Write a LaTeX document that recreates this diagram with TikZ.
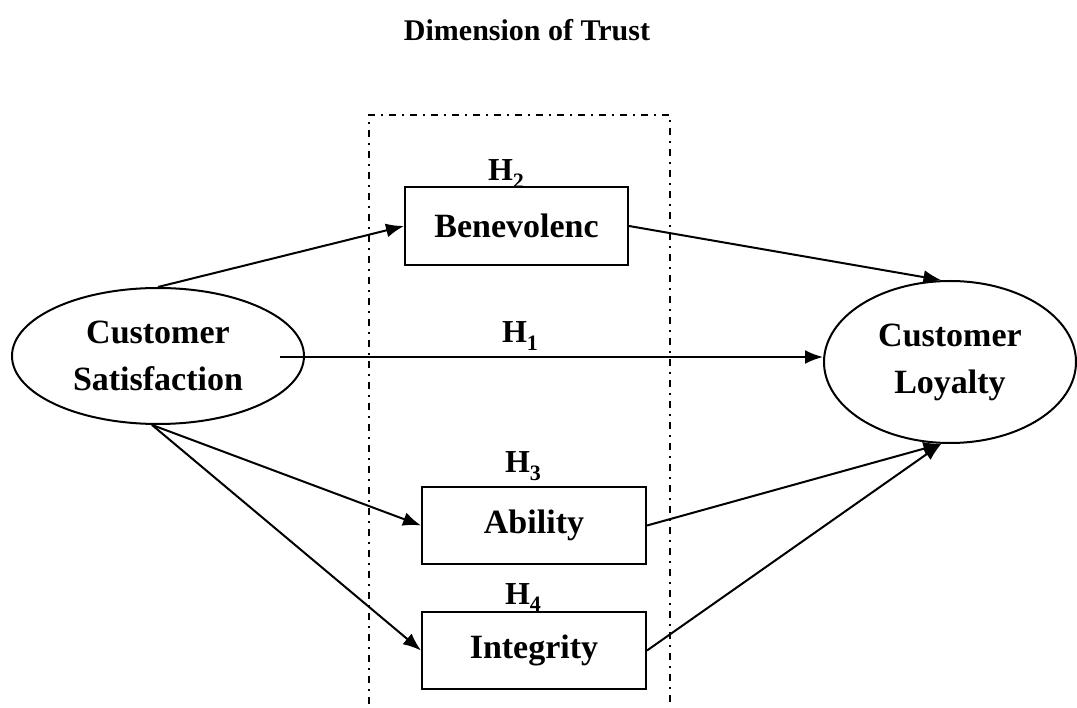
\documentclass[tikz,border=0pt]{standalone}
\usepackage{fontspec}
\setmainfont{Liberation Serif}
\usetikzlibrary{arrows.meta,shapes.geometric}
\newcommand{\hsub}[1]{H\raisebox{-0.22em}{\fontsize{22}{24}\selectfont #1}}
\begin{document}
\begin{tikzpicture}[x=1pt,y=-1pt,
  every node/.style={font=\bfseries\fontsize{34}{47}\selectfont},
  box/.style={draw,line width=2pt,inner sep=0pt},
  oval/.style={draw,ellipse,line width=2pt,inner sep=0pt,align=center},
  lab/.style={anchor=base,inner sep=0pt,font=\bfseries\fontsize{32}{38}\selectfont},
  conn/.style={line width=2pt,-{Latex[length=18pt,width=14pt]}},
  frame/.style={line width=1.5pt,dash pattern=on 7pt off 6pt on 2pt off 6pt}]
\useasboundingbox (0,0) rectangle (1077,708);
\node[anchor=base,inner sep=0pt,font=\bfseries\fontsize{30}{36}\selectfont] (title) at (527,41) {Dimension of Trust};
\draw[frame] (369,704) -- (369,115) -- (670,115) -- (670,704);
\node[oval,minimum width=292pt,minimum height=136pt] (CS) at (158,356) {Customer\\Satisfaction};
\node[oval,minimum width=252pt,minimum height=162pt] (CL) at (950,362) {Customer\\Loyalty};
\node[box,minimum width=223pt,minimum height=78pt] (B) at (516.5,226) {Benevolenc};
\node[box,minimum width=224pt,minimum height=77pt] (A) at (534,525.5) {Ability};
\node[box,minimum width=224pt,minimum height=77pt] (I) at (534,650.5) {Integrity};
\node[lab] (h2) at (506,181) {\hsub{2}};
\node[lab] (h1) at (520,343) {\hsub{1}};
\node[lab] (h3) at (523,473) {\hsub{3}};
\node[lab] (h4) at (523,604) {\hsub{4}};
\coordinate (s1) at (280,357);
\draw[conn] (CS.north) -- (B.west);
\draw[conn] (B.east) -- (CL.96);
\draw[conn] (s1) -- (s1 -| CL.west);
\draw[conn] (CS.265) -- (A.west);
\draw[conn] (CS.265) -- (I.west);
\draw[conn] (A.east) -- (CL.264);
\draw[conn] (I.east) -- (CL.264);
\end{tikzpicture}
\end{document}
